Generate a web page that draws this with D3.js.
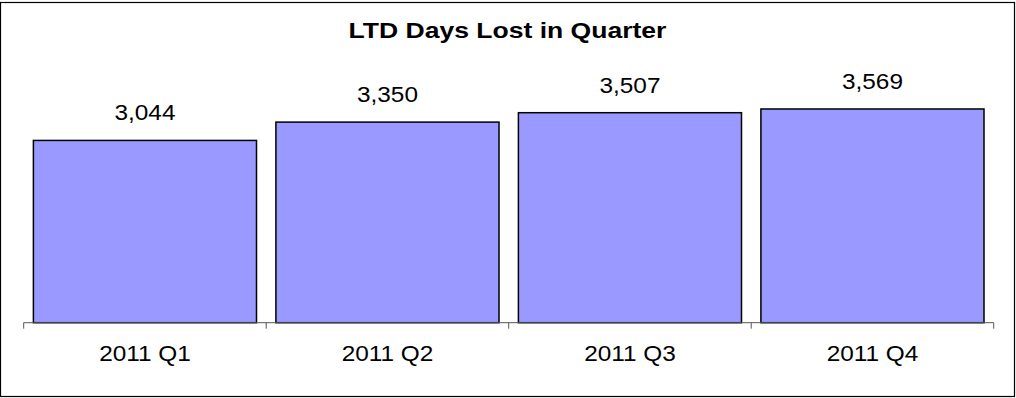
<!DOCTYPE html>
<html>
<head>
<meta charset="utf-8">
<script src="https://cdn.jsdelivr.net/npm/d3@7"></script>
<style>
  html, body { margin: 0; padding: 0; background: #fff; }
  svg { display: block; font-family: "Liberation Sans", Arial, sans-serif; }
</style>
</head>
<body>
<svg id="chart" width="1016" height="398"></svg>
<script>
// Quarterly LTD days lost
const quarters = ["2011 Q1", "2011 Q2", "2011 Q3", "2011 Q4"];
const daysLost = [3044, 3350, 3507, 3569];
const chartTitle = "LTD Days Lost in Quarter";

const svg = d3.select("#chart");

// Outer frame
svg.append("rect")
  .attr("x", 0.5).attr("y", 2.5)
  .attr("width", 1014).attr("height", 394)
  .attr("fill", "#fff").attr("stroke", "#000").attr("stroke-width", 1.2);

const x = d3.scaleBand()
  .domain(quarters)
  .range([23.7, 993.7])
  .paddingInner(0.08)
  .paddingOuter(0.04);

const y = d3.scaleLinear()
  .domain([0, 4000])
  .range([322.7, 322.7 - 4000 / 16.7]);

// Horizontally stretched text helper
function stretchedText(g, tx, ty, txt, size, weight, sx) {
  g.append("text")
    .attr("transform", `translate(${tx},${ty}) scale(${sx},1)`)
    .attr("text-anchor", "middle")
    .attr("font-size", size)
    .attr("font-weight", weight || "normal")
    .attr("fill", "#000")
    .text(txt);
}

// Title
stretchedText(svg, 507.5, 38.3, chartTitle, 22.3, "bold", 1.19);

// Bars
svg.append("g").selectAll("rect")
  .data(daysLost)
  .join("rect")
  .attr("x", (d, i) => x(quarters[i]))
  .attr("y", d => y(d))
  .attr("width", x.bandwidth())
  .attr("height", d => y(0) - y(d))
  .attr("fill", "#9999FF")
  .attr("stroke", "#000")
  .attr("stroke-width", 1.5);

// Value labels
const fmt = d3.format(",");
const labels = svg.append("g");
daysLost.forEach((d, i) => {
  stretchedText(labels, x(quarters[i]) + x.bandwidth() / 2, y(d) - 20, fmt(d), 21.2, "normal", 1.15);
});

// Category axis
const axisG = svg.append("g").attr("transform", `translate(0,${y(0)})`);
axisG.append("line")
  .attr("x1", x.range()[0]).attr("x2", x.range()[1])
  .attr("stroke", "#555").attr("stroke-width", 1);
const tickXs = d3.range(quarters.length + 1).map(i => x.range()[0] + i * (x.range()[1] - x.range()[0]) / quarters.length);
axisG.selectAll("line.tick")
  .data(tickXs)
  .join("line")
  .attr("class", "tick")
  .attr("x1", d => d).attr("x2", d => d)
  .attr("y1", 0).attr("y2", 6)
  .attr("stroke", "#555").attr("stroke-width", 1);

quarters.forEach(q => {
  stretchedText(svg, x(q) + x.bandwidth() / 2, 361, q, 21.2, "normal", 1.15);
});
</script>
</body>
</html>
